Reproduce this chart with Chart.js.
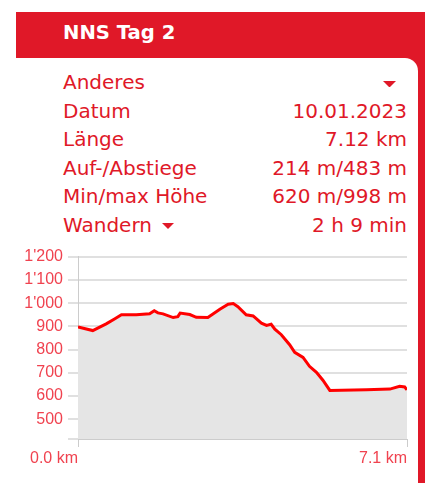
<!DOCTYPE html>
<html>
<head>
<meta charset="utf-8">
<script src="https://cdn.jsdelivr.net/npm/chart.js@4/dist/chart.umd.min.js"></script>
<style>
  html, body { margin: 0; padding: 0; background: #fff; }
  body { width: 425px; height: 483px; position: relative; overflow: hidden; font-family: "DejaVu Sans", Verdana, sans-serif; }
  #frame { position: absolute; left: 16px; top: 12px; width: 409px; height: 471px; background: #e01828; }
  #panel { position: absolute; left: 16px; top: 58px; width: 402px; height: 425px; background: #fff; border-top-right-radius: 13px; }
  #title { position: absolute; left: 63px; top: 20px; color: #fff; font-weight: bold; font-size: 19.6px; line-height: 26px; }
  .row { position: absolute; left: 63px; width: 344px; height: 28.5px; line-height: 28.5px; font-size: 20px; color: #e01828; }
  .row .v { position: absolute; right: 0; top: 0; }
  .tri { display: inline-block; width: 0; height: 0; border-left: 6px solid transparent; border-right: 6px solid transparent; border-top: 6px solid #e01828; vertical-align: middle; }
  #chart { position: absolute; left: 0; top: 240px; }
</style>
</head>
<body>
<div id="frame"></div>
<div id="panel"></div>
<div id="title">NNS Tag 2</div>
<div id="rows"></div>
<canvas id="chart" width="418" height="243"></canvas>
<script>
// elevation profile (km, m)
const distances = [0, 0.32, 0.47, 0.61, 0.79, 0.94, 1.26, 1.55, 1.65, 1.73, 1.84, 2.06, 2.16, 2.21, 2.42, 2.56, 2.81,
    3.07, 3.25, 3.36, 3.46, 3.64, 3.79, 3.97, 4.08, 4.18, 4.26, 4.40, 4.58, 4.69, 4.87, 5.01, 5.16, 5.30, 5.45,
    6.24, 6.75, 6.96, 7.07, 7.12];
const elevations = [897, 882, 897, 911, 932, 950, 950, 954, 967, 958, 954, 938, 942, 957, 951, 939, 938,
    974, 995, 998, 985, 950, 945, 914, 904, 909, 888, 864, 821, 788, 766, 728, 702, 668, 624,
    627, 630, 642, 639, 627];
const yTicks = [415, 500, 600, 700, 800, 900, 1000, 1100, 1200];
const xTicks = [0, 7.12];

const infoLabels = ["Anderes", "Datum", "Länge", "Auf-/Abstiege", "Min/max Höhe", "Wandern"];
const infoValues = ["", "10.01.2023", "7.12 km", "214 m/483 m", "620 m/998 m", "2 h 9 min"];

const rows = document.getElementById("rows");
infoLabels.forEach((lab, i) => {
    const d = document.createElement("div");
    d.className = "row";
    d.style.top = (68.1 + i * 28.5) + "px";
    let left = lab;
    if (i === 5) left += ' <span class="tri" style="margin-left:4px"></span>';
    let val = infoValues[i];
    if (i === 0) val = '<span class="tri" style="margin-right:11px;width:1px"></span>';
    d.innerHTML = left + '<span class="v">' + val + '</span>';
    rows.appendChild(d);
});

function swiss(v) {
    if (v >= 1000) return Math.floor(v / 1000) + "'" + String(v % 1000).padStart(3, "0");
    return String(v);
}

const tickColor = "#f0424f";
const tickFont = { family: "'Liberation Sans', Arial, sans-serif", size: 16 };

new Chart(document.getElementById("chart"), {
    type: "line",
    data: {
        datasets: [{
            data: distances.map((x, i) => ({ x: x, y: elevations[i] })),
            borderColor: "#ff0000",
            borderWidth: 3,
            backgroundColor: "#e5e5e5",
            fill: "start",
            pointRadius: 0,
            tension: 0
        }]
    },
    options: {
        responsive: false,
        animation: false,
        layout: { padding: { top: 16.7, right: 11, left: 0, bottom: 0 } },
        plugins: { legend: { display: false }, tooltip: { enabled: false } },
        scales: {
            x: {
                type: "linear",
                min: 0,
                max: 7.12,
                afterBuildTicks: s => { s.ticks = xTicks.map(v => ({ value: v })); },
                afterFit: s => { s.height = 44; },
                ticks: {
                    callback: v => v.toFixed(1) + " km",
                    align: "end",
                    color: tickColor,
                    font: tickFont,
                    padding: 1.5,
                    maxRotation: 0,
                    autoSkip: false
                },
                grid: { drawOnChartArea: false, tickLength: 8, color: "#cccccc" },
                border: { color: "#cccccc" }
            },
            y: {
                min: 415,
                max: 1200,
                afterBuildTicks: s => { s.ticks = yTicks.map(v => ({ value: v })); },
                afterFit: s => { s.width = 78; },
                ticks: {
                    callback: v => (v === 415 ? "" : swiss(v)),
                    color: tickColor,
                    font: tickFont,
                    padding: 5
                },
                grid: { color: "#e0e0e0", lineWidth: 2, tickLength: 10 },
                border: { color: "#cccccc", width: 1 }
            }
        }
    }
});
</script>
</body>
</html>
